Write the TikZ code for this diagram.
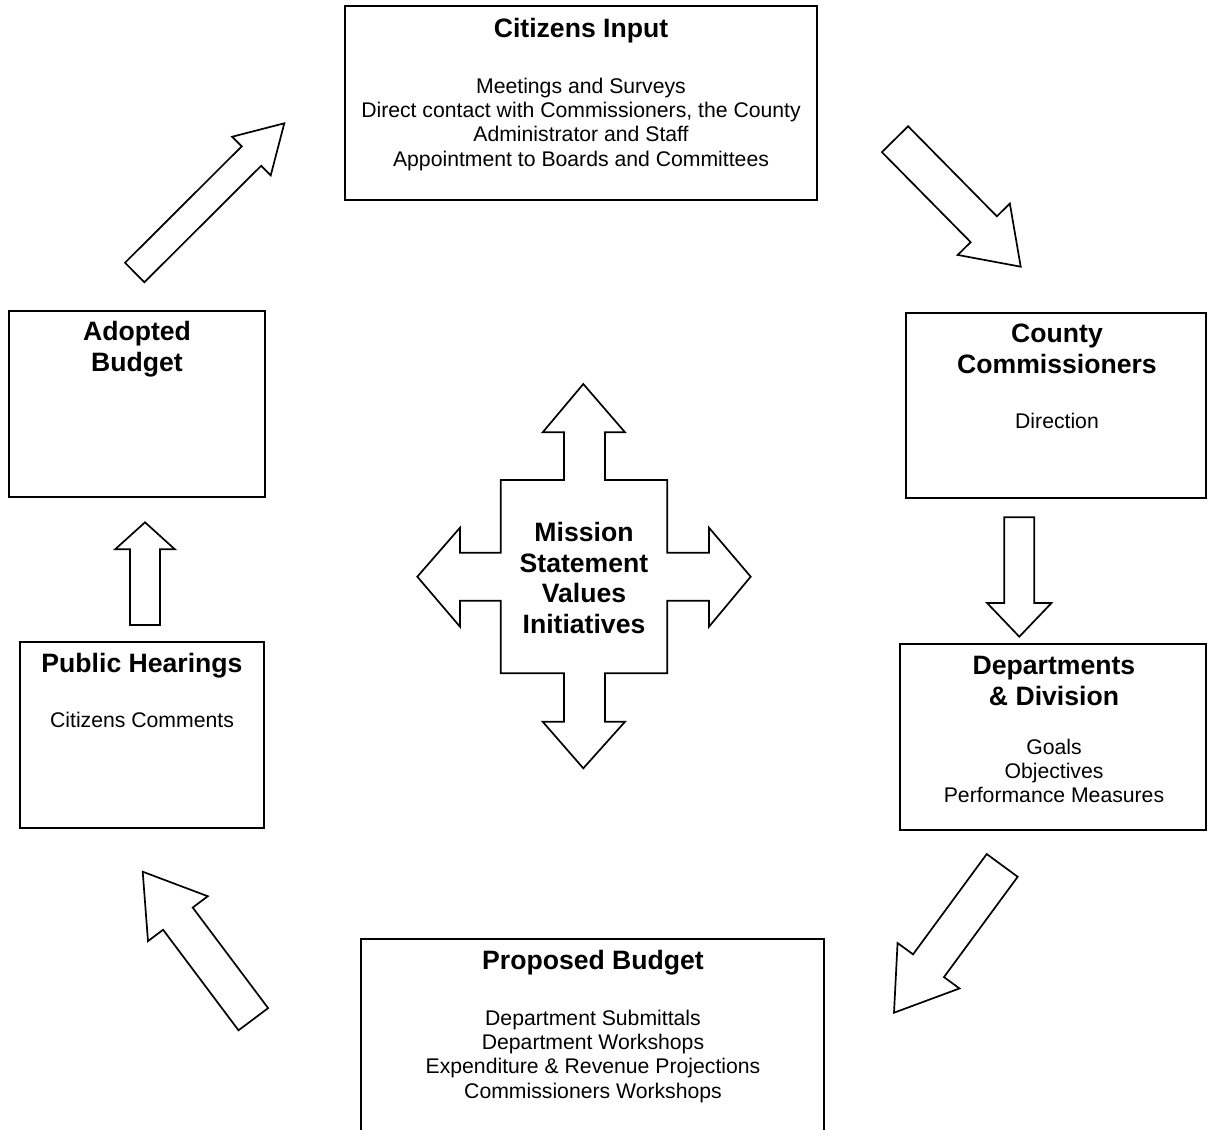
\documentclass[tikz,border=0pt]{standalone}
\usepackage{fontspec}
\setmainfont{Liberation Sans}
\usetikzlibrary{calc}
\tikzset{
  box/.style={draw, line width=1.7pt, inner sep=0pt},
  ttl/.style={font=\bfseries\fontsize{26.6}{30.6}\selectfont, align=center, inner sep=0pt, anchor=north},
  txt/.style={font=\fontsize{21.2}{24.4}\selectfont, align=center, inner sep=0pt, anchor=north},
  blk/.style={draw, line width=1.7pt, line join=miter, fill=white},
}
\newcommand{\fl}{\rule{0pt}{0.8em}}
% tail, tip, shaft half width, head half width, head length
\newcommand{\blockarrow}[5]{%
  \coordinate (baN) at ($(#2)!#5!(#1)$);
  \draw[blk] ($(#1)!#3!90:(#2)$) -- ($(baN)!#3!90:(#2)$) -- ($(baN)!#4!90:(#2)$) -- (#2)
     -- ($(baN)!#4!-90:(#2)$) -- ($(baN)!#3!-90:(#2)$) -- ($(#1)!#3!-90:(#2)$) -- cycle;}
\begin{document}
\begin{tikzpicture}[x=1pt, y=-1pt]
\useasboundingbox (0,0) rectangle (1208,1130);
\clip (0,0) rectangle (1208,1130);
\fill[white] (0,0) rectangle (1208,1130);

% boxes
\node[box, minimum width=472pt, minimum height=194pt] (ci) at (581,103) {};
\node[box, minimum width=300pt, minimum height=185pt] (cc) at (1056,405.5) {};
\node[box, minimum width=306pt, minimum height=186pt] (dd) at (1053,737) {};
\node[box, minimum width=463pt, minimum height=221pt] (pb) at (592.5,1049.5) {};
\node[box, minimum width=244pt, minimum height=186pt] (ph) at (142,735) {};
\node[box, minimum width=256pt, minimum height=186pt] (ab) at (137,404) {};

% texts
\node[ttl] (ciT) at (581,16.2) {\fl Citizens Input};
\node[txt] (ciB) at (581,76.0) {\fl Meetings and Surveys\\Direct contact with Commissioners, the County\\Administrator and Staff\\Appointment to Boards and Committees};
\node[ttl] (ccT) at (1057,321.2) {\fl County\\Commissioners};
\node[txt] (ccB) at (1057,411.0) {\fl Direction};
\node[ttl] (ddT) at (1054,653.2) {\fl Departments\\\& Division};
\node[txt] (ddB) at (1054,737.0) {\fl Goals\\Objectives\\Performance Measures};
\node[ttl] (pbT) at (593,948.2) {\fl Proposed Budget};
\node[txt] (pbB) at (593,1008.0) {\fl Department Submittals\\Department Workshops\\Expenditure \& Revenue Projections\\Commissioners Workshops};
\node[ttl] (phT) at (142,651.2) {\fl Public Hearings};
\node[txt] (phB) at (142,710.0) {\fl Citizens Comments};
\node[ttl] (abT) at (137,319.2) {\fl Adopted\\Budget};

% central cross arrow
\draw[blk] (583.3,384) -- (625,432.3) -- (605,432.3) -- (605,480) -- (667.3,480) -- (667.3,552.7)
  -- (709,552.7) -- (709,527.7) -- (750.7,576.7) -- (709,626.7) -- (709,600.7) -- (667.3,600.7)
  -- (667.3,673.3) -- (605,673.3) -- (605,721.7) -- (625,721.7) -- (583.3,768.3) -- (542.7,721.7)
  -- (564,721.7) -- (564,673.3) -- (500.7,673.3) -- (500.7,600.7) -- (460,600.7) -- (460,626.7)
  -- (417.3,576.7) -- (460,527.7) -- (460,552.7) -- (500.7,552.7) -- (500.7,480) -- (564,480)
  -- (564,432.3) -- (542.7,432.3) -- cycle;
\node[ttl] (ms) at (584,520.2) {\fl Mission\\Statement\\Values\\Initiatives};

% block arrows between the boxes
\coordinate (a1t) at (134.7,272.5);  \coordinate (a1h) at (284.3,123.3);
\coordinate (a2t) at (895,139.2);    \coordinate (a2h) at (1020.7,266.7);
\coordinate (a3t) at (1019.3,517.3); \coordinate (a3h) at (1019.3,636.7);
\coordinate (a4t) at (1002.2,865.4); \coordinate (a4h) at (894,1012.7);
\coordinate (a5t) at (253.3,1019.2); \coordinate (a5h) at (142.7,871.7);
\coordinate (a6t) at (145,625);      \coordinate (a6h) at (145,522.3);
\blockarrow{a1t}{a1h}{13.75pt}{27.3pt}{46.4pt}
\blockarrow{a2t}{a2h}{18.4pt}{36.6pt}{52.6pt}
\blockarrow{a3t}{a3h}{15pt}{32.2pt}{33.7pt}
\blockarrow{a4t}{a4h}{19.2pt}{38.4pt}{58.3pt}
\blockarrow{a5t}{a5h}{18.5pt}{37.4pt}{58.7pt}
\blockarrow{a6t}{a6h}{15pt}{29.85pt}{27pt}
\end{tikzpicture}
\end{document}
